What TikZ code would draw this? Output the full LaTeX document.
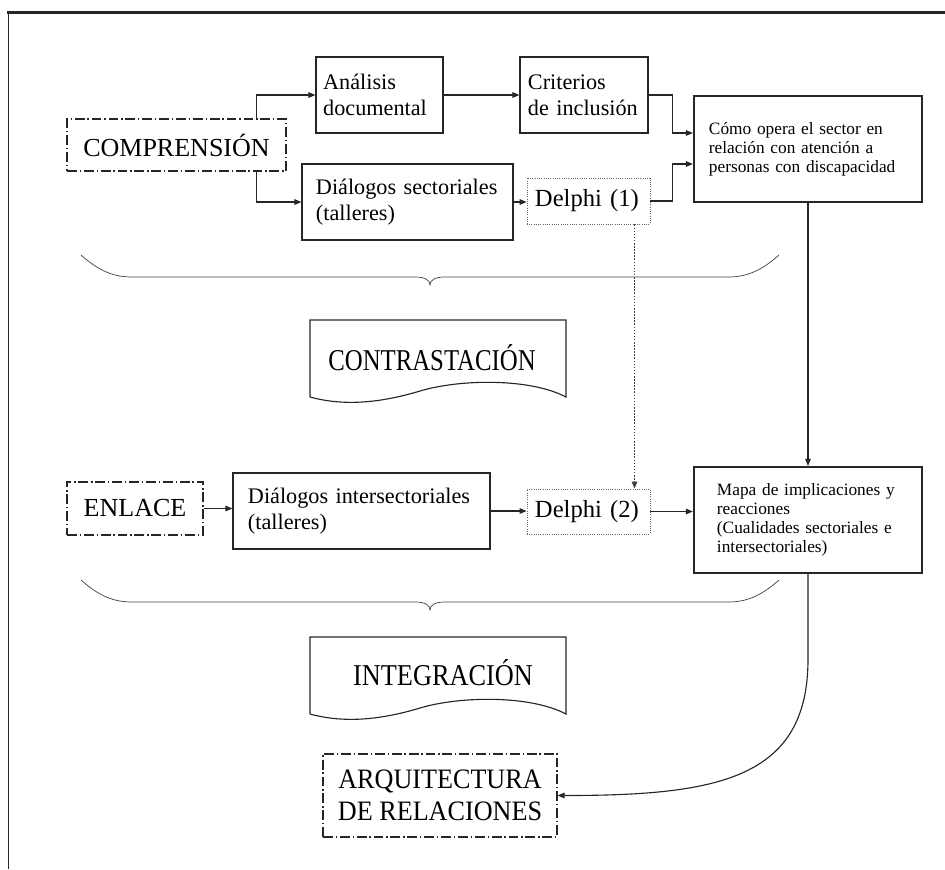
\documentclass[tikz,border=0pt]{standalone}
\usepackage{fontspec}
\usepackage{graphicx}
\setmainfont{Liberation Serif}
\usetikzlibrary{arrows.meta,positioning}

\newcommand{\txtmain}{\fontsize{15.8}{18.4}\selectfont}
\newcommand{\txtsmall}{\fontsize{12.3}{13.5}\selectfont}
\newcommand{\txtbig}{\fontsize{18.5}{22}\selectfont}
\newcommand{\txtdelphi}{\fontsize{17.5}{20}\selectfont}
\newcommand{\txtstage}{\fontsize{21.5}{22.7}\selectfont}

\tikzset{
  box/.style={draw=black!85, line width=0.8pt, align=left, font=\txtmain, inner ysep=0pt},
  thickbox/.style={draw=black!85, line width=1.6pt, align=left, font=\txtsmall, inner ysep=0pt},
  stagebox/.style={draw=black!85, line width=0.8pt, dash pattern=on 7pt off 2pt on 1pt off 2pt, align=center, inner sep=0pt},
  dotbox/.style={draw=black!60, line width=0.6pt, densely dotted, align=left, font=\txtdelphi, inner ysep=0pt},
  arr/.style={draw=black!85, line width=0.8pt, -{Triangle[length=5pt,width=4pt]}},
  dotarr/.style={draw=black!75, line width=0.9pt, dash pattern=on 1.1pt off 1.1pt, -{Triangle[length=5pt,width=4pt]}},
  braceline/.style={draw=black!75, line width=0.5pt},
  docline/.style={draw=black!85, line width=0.8pt},
}

\begin{document}
\begin{tikzpicture}[x=0.025cm,y=-0.025cm]
  \useasboundingbox (0,0) rectangle (945,869);
  % frame
  \draw[line width=1.5pt, black!85] (7,12.5) -- (945,12.5);
  \draw[line width=0.6pt, black!85] (8,12.5) -- (8,869);

  % first row
  \node[stagebox, font=\txtbig, minimum width=5.475cm, minimum height=1.3cm] (compr) at (176.5,145) {COMPRENSIÓN};
  \node[box, text width=2.815cm, inner xsep=0.18cm, minimum height=1.9cm] (analisis) at (379.5,95) {Análisis\\documental};
  \node[box, text width=2.8cm, inner xsep=0.2cm, minimum height=1.9cm] (criterios) at (584,95) {Criterios\\de inclusión};
  \node[box, text width=4.575cm, inner xsep=0.35cm, minimum height=1.9cm] (dsect) at (407.5,202) {Diálogos sectoriales\\(talleres)};
  \node[dotbox, text width=2.675cm, inner xsep=0.2cm, minimum height=1.15cm] (delphi1) at (588.5,201) {Delphi (1)};
  \node[thickbox, text width=4.95cm, inner xsep=0.375cm, minimum height=2.65cm] (como) at (808,149) {Cómo opera el sector en\\relación con atención a\\personas con discapacidad};

  % second row
  \node[stagebox, font=\txtbig, minimum width=3.4cm, minimum height=1.325cm] (enlace) at (135,508.5) {ENLACE};
  \node[box, text width=5.675cm, inner xsep=0.375cm, minimum height=1.9cm] (dinter) at (361.5,511) {Diálogos intersectoriales\\(talleres)};
  \node[dotbox, text width=2.675cm, inner xsep=0.2cm, minimum height=1.125cm] (delphi2) at (588.5,511.5) {Delphi (2)};
  \node[thickbox, text width=4.55cm, inner xsep=0.575cm, minimum height=2.65cm] (mapa) at (808,520) {Mapa de implicaciones y\\reacciones\\(Cualidades sectoriales e\\intersectoriales)};

  % stages
  \node[font=\txtstage] (contr) at (432,358) {\scalebox{0.82}[1]{CONTRASTACIÓN}};
  \node[font=\txtstage] (integ) at (443,673) {\scalebox{0.87}[1]{INTEGRACIÓN}};
  \node[stagebox, font=\fontsize{20}{22.7}\selectfont, minimum width=5.85cm, minimum height=2.075cm] (arq) at (440,795.5) {\scalebox{0.93}[1]{ARQUITECTURA}\\\scalebox{0.93}[1]{DE RELACIONES}};

  \foreach \dy in {0,317}
    \draw[docline] (310,397+\dy) -- (310,320+\dy) -- (566,320+\dy) -- (566,397+\dy)
      .. controls (530,378+\dy) and (460,379+\dy) .. (420,391+\dy)
      .. controls (390,400+\dy) and (350,408+\dy) .. (310,397+\dy);

  % braces
  \foreach \dy in {0,325}
    \draw[braceline] (81,255+\dy) .. controls (100,272+\dy) and (115,277+\dy) .. (132,277+\dy)
      -- (415,277+\dy) .. controls (425,277+\dy) and (430,280+\dy) .. (430,285+\dy)
      .. controls (430,280+\dy) and (435,277+\dy) .. (445,277+\dy)
      -- (728,277+\dy) .. controls (745,277+\dy) and (760,272+\dy) .. (779,255+\dy);

  % connectors
  \draw[arr] ([xshift=-0.75cm]compr.north east) |- (analisis.west);
  \draw[arr] ([xshift=-0.75cm]compr.south east) |- (dsect.west);
  \draw[arr] (analisis) -- (criterios);
  \draw[arr] (criterios.east) -- ++(24,0) |- ([yshift=0.4cm]como.west);
  \draw[arr] (dsect.east) -- (dsect.east -| delphi1.west);
  \draw[arr] (delphi1.east) -- ++(22,0) |- ([yshift=-0.375cm]como.west);
  \draw[dotarr] ([xshift=1.15cm]delphi1.south) -- ([xshift=1.15cm]delphi2.north);
  \draw[arr] (como) -- (mapa);
  \draw[arr] (enlace.east) -- (enlace.east -| dinter.west);
  \draw[arr] (dinter.east) -- (dinter.east -| delphi2.west);
  \draw[arr] (delphi2.east) -- (delphi2.east -| mapa.west);
  \draw[arr] (mapa.south) -- ++(0,85) .. controls +(0,120) and +(160,0) .. (arq.east);
\end{tikzpicture}
\end{document}
